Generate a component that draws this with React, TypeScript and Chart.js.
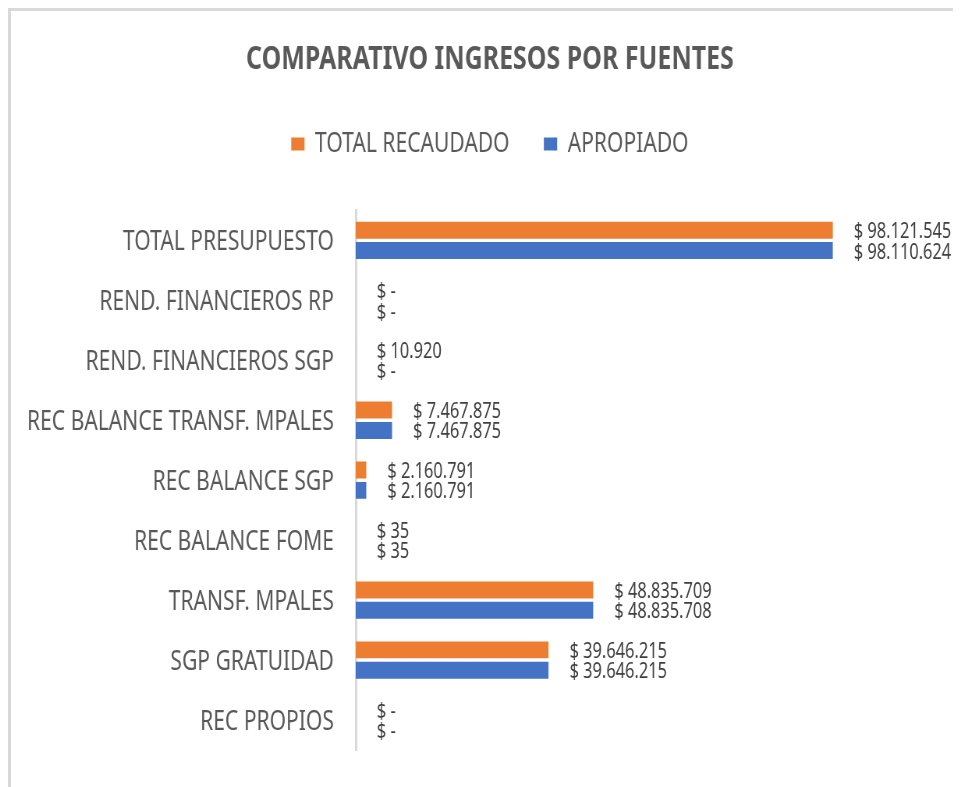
import React, { useEffect, useRef } from "react";
import { Chart, registerables } from "chart.js";

Chart.register(...registerables);

const categories = [
  "TOTAL PRESUPUESTO",
  "REND. FINANCIEROS RP",
  "REND. FINANCIEROS SGP",
  "REC BALANCE TRANSF. MPALES",
  "REC BALANCE SGP",
  "REC BALANCE FOME",
  "TRANSF. MPALES",
  "SGP GRATUIDAD",
  "REC PROPIOS",
];

const totalRecaudado = [98121545, 0, 10920, 7467875, 2160791, 35, 48835709, 39646215, 0];
const apropiado = [98110624, 0, 0, 7467875, 2160791, 35, 48835708, 39646215, 0];

const seriesNames = ["TOTAL RECAUDADO", "APROPIADO"];
const seriesColors = ["#ED7D31", "#4472C4"];
const xMax = 120000000;

const FONT = '"Noto Sans", "Open Sans", sans-serif';

// The canvas is drawn wider than shown and squeezed by CSS, giving condensed lettering.
const CSS_W = 950;
const CSS_H = 776;
const CANVAS_W = 1218;

function fmt(v: number): string {
  if (!v) return "$ -";
  return "$ " + String(Math.round(v)).replace(/\B(?=(\d{3})+(?!\d))/g, ".");
}

const labelPlugin = {
  id: "barValueLabels",
  afterLayout(chart: any) {
    // let the long category labels use the space to the left of the axis box
    const y = chart.scales.y;
    if (y) y.left = 0;
  },
  afterDatasetsDraw(chart: any) {
    const ctx = chart.ctx;
    ctx.save();
    ctx.font = `21px ${FONT}`;
    ctx.fillStyle = "#404040";
    ctx.textAlign = "left";
    ctx.textBaseline = "middle";
    chart.data.datasets.forEach((ds: any, di: number) => {
      const meta = chart.getDatasetMeta(di);
      meta.data.forEach((el: any, i: number) => {
        ctx.fillText(fmt(ds.data[i]), el.x + 27, el.y + 2);
      });
    });
    ctx.restore();
  },
};

export default function App() {
  const ref = useRef<HTMLCanvasElement | null>(null);

  useEffect(() => {
    if (!ref.current) return;
    const chart = new Chart(ref.current, {
      type: "bar",
      data: {
        labels: categories,
        datasets: [
          { label: seriesNames[0], data: totalRecaudado, backgroundColor: seriesColors[0] },
          { label: seriesNames[1], data: apropiado, backgroundColor: seriesColors[1] },
        ],
      },
      options: {
        indexAxis: "y",
        responsive: false,
        animation: false,
        maintainAspectRatio: false,
        devicePixelRatio: 1,
        datasets: { bar: { categoryPercentage: 0.68, barPercentage: 0.83 } },
        layout: { padding: { left: 38, right: 28, top: 0, bottom: 37 } },
        plugins: {
          title: {
            display: true,
            text: "COMPARATIVO INGRESOS POR FUENTES",
            color: "#595959",
            font: { family: FONT, size: 32, weight: "bold", lineHeight: 1.2 },
            padding: { top: 30, bottom: 7 },
          },
          legend: {
            display: true,
            position: "top",
            labels: {
              boxWidth: 17,
              boxHeight: 13,
              padding: 44,
              color: "#595959",
              font: { family: FONT, size: 27 },
            },
          },
          tooltip: { enabled: false },
        },
        scales: {
          x: {
            position: "top",
            min: 0,
            max: xMax,
            display: true,
            ticks: { display: false },
            grid: { display: false },
            border: { display: false },
            afterFit: (scale: any) => {
              scale.height = 43;
            },
          },
          y: {
            ticks: {
              color: "#595959",
              font: { family: FONT, size: 27 },
              padding: 28,
              labelOffset: 2,
            },
            grid: { display: false, drawTicks: false },
            border: { display: true, color: "#d9d9d9", width: 3 },
            afterFit: (scale: any) => {
              scale.width = 404;
              scale.paddingTop = 0;
              scale.paddingBottom = 0;
            },
          },
        },
      },
      plugins: [labelPlugin],
    });
    return () => chart.destroy();
  }, []);

  return (
    <div
      style={{
        width: CSS_W,
        height: CSS_H,
        borderTop: "3px solid #d9d9d9",
        borderLeft: "3px solid #d9d9d9",
        background: "#ffffff",
      }}
    >
      <canvas
        ref={ref}
        width={CANVAS_W}
        height={CSS_H}
        style={{ display: "block", width: CSS_W, height: CSS_H }}
      />
    </div>
  );
}
